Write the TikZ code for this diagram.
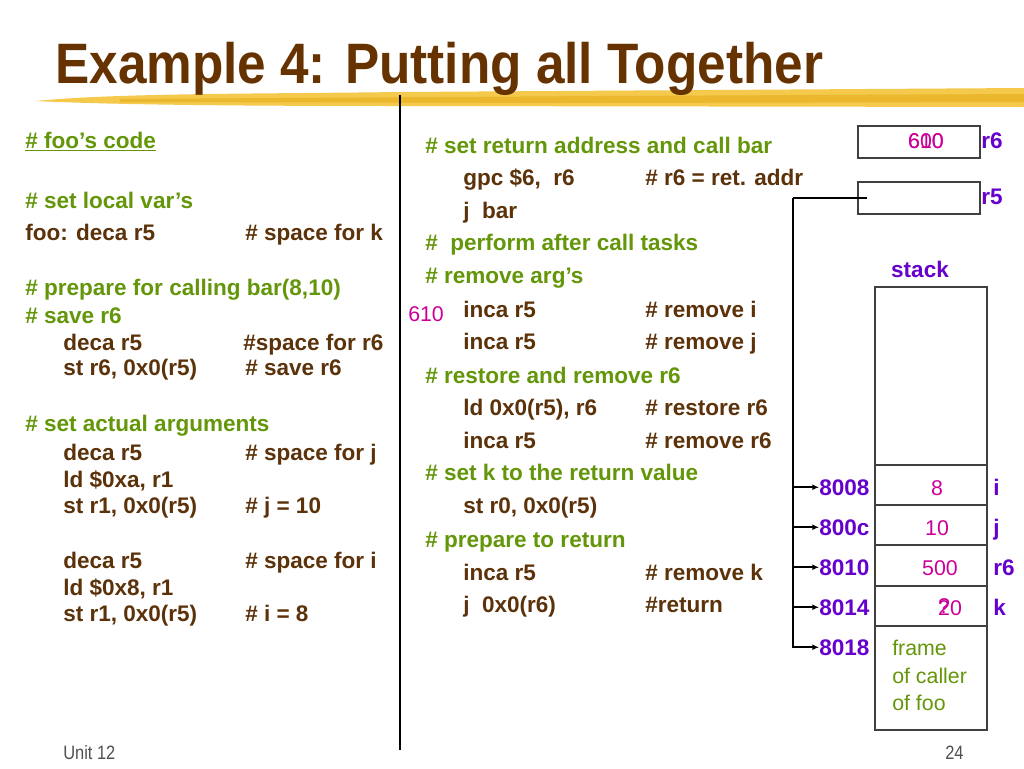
\documentclass[tikz,border=0pt]{standalone}
\usepackage{fontspec}
\setmainfont{Liberation Sans}
\usetikzlibrary{arrows.meta}
\definecolor{titlebrown}{RGB}{102,51,0}
\definecolor{codebrown}{RGB}{92,50,10}
\definecolor{cgreen}{RGB}{100,150,10}
\definecolor{cpurple}{RGB}{102,0,204}
\definecolor{cmagenta}{RGB}{204,0,153}
\definecolor{hlgold}{RGB}{242,192,45}
\definecolor{hldark}{RGB}{228,170,20}
\definecolor{footgray}{RGB}{80,80,80}
\begin{document}
\begin{tikzpicture}[x=0.75pt,y=-0.75pt,
  code/.style={anchor=base west,inner sep=0pt,text=codebrown,font=\fontsize{16.9}{20}\selectfont\bfseries},
  cmt/.style={code,text=cgreen},
  addr/.style={code,text=cpurple},
  lbl/.style={code,text=cpurple},
  val/.style={anchor=base,inner sep=0pt,text=cmagenta,font=\fontsize{16}{19}\selectfont},
  frametxt/.style={anchor=base west,inner sep=0pt,text=cgreen,font=\fontsize{16}{19}\selectfont},
  regbox/.style={draw=black!75,line width=0.9pt,minimum width=91.5pt,minimum height=24pt,inner sep=0pt},
  arr/.style={line width=1.3pt,-{Latex[length=5pt,width=4.5pt]}},
  foot/.style={anchor=base west,inner sep=0pt,text=footgray,font=\fontsize{14.5}{17}\selectfont}]
\useasboundingbox (0,0) rectangle (1024,768);
\fill[white] (0,0) rectangle (1024,768);
% highlight stroke
\fill[hlgold!85!white] (35,101) .. controls (120,93) and (250,94) .. (400,92) -- (1024,88) -- (1024,107) -- (400,106) .. controls (250,106) and (120,105) .. (35,101) -- cycle;
\fill[hldark,opacity=0.55] (120,99) -- (600,96) -- (1024,94) -- (1024,102) -- (600,103) -- (120,102) -- cycle;
% title
\node[anchor=base west,inner sep=0pt,text=titlebrown,font=\fontsize{42.75}{48}\selectfont\bfseries] (title) at (55,83) {\scalebox{0.9}[1]{Example 4: Putting all Together}};
% divider
\draw[line width=1.5pt] (400,95) -- (400,750);
% left column
\node[cmt] (l1) at (25,148) {\underline{\# foo’s code}};
\node[cmt] (l2) at (25,208) {\# set local var’s};
\node[code] (l3) at (25,240) {foo: deca r5};
\node[code] (l3c) at (245,240) {\# space for k};
\node[cmt] (l4) at (25,295) {\# prepare for calling bar(8,10)};
\node[cmt] (l5) at (25,323) {\# save r6};
\node[code] (l6) at (63,350) {deca r5};
\node[code] (l6c) at (243,350) {\#space for r6};
\node[code] (l7) at (63,375) {st r6, 0x0(r5)};
\node[code] (l7c) at (245,375) {\# save r6};
\node[cmt] (l8) at (25,431) {\# set actual arguments};
\node[code] (l9) at (63,460) {deca r5};
\node[code] (l9c) at (245,460) {\# space for j};
\node[code] (l10) at (63,487) {ld \$0xa, r1};
\node[code] (l11) at (63,513) {st r1, 0x0(r5)};
\node[code] (l11c) at (245,513) {\# j = 10};
\node[code] (l12) at (63,568) {deca r5};
\node[code] (l12c) at (245,568) {\# space for i};
\node[code] (l13) at (63,595) {ld \$0x8, r1};
\node[code] (l14) at (63,621) {st r1, 0x0(r5)};
\node[code] (l14c) at (245,621) {\# i = 8};
% middle column
\node[cmt] (m1) at (425,153) {\# set return address and call bar};
\node[code] (m2) at (463,185) {gpc \$6,\ \ r6};
\node[code] (m2c) at (645,185) {\# r6 = ret. addr};
\node[code] (m3) at (463,218) {j\ \ bar};
\node[cmt] (m4) at (425,250) {\#\ \ perform after call tasks};
\node[cmt] (m5) at (425,283) {\# remove arg’s};
\node[val,anchor=base west] (m610) at (408,321) {610};
\node[code] (m6) at (463,317) {inca r5};
\node[code] (m6c) at (645,317) {\# remove i};
\node[code] (m7) at (463,349) {inca r5};
\node[code] (m7c) at (645,349) {\# remove j};
\node[cmt] (m8) at (425,383) {\# restore and remove r6};
\node[code] (m9) at (463,415) {ld 0x0(r5), r6};
\node[code] (m9c) at (645,415) {\# restore r6};
\node[code] (m10) at (463,448) {inca r5};
\node[code] (m10c) at (645,448) {\# remove r6};
\node[cmt] (m11) at (425,480) {\# set k to the return value};
\node[code] (m12) at (463,513) {st r0, 0x0(r5)};
\node[cmt] (m13) at (425,547) {\# prepare to return};
\node[code] (m14) at (463,580) {inca r5};
\node[code] (m14c) at (645,580) {\# remove k};
\node[code] (m15) at (463,612) {j\ \ 0x0(r6)};
\node[code] (m15c) at (645,612) {\#return};
% registers
\node[regbox] (r6box) at (919,142) {};
\node[val] (r6v1) at (926,148) {600};
\node[val] (r6v2) at (926,148) {610};
\node[lbl] (r6lbl) at (981,148) {r6};
\node[regbox] (r5box) at (919,198) {};
\node[lbl] (r5lbl) at (981,204) {r5};
% stack
\node[lbl,anchor=base] (stacklbl) at (920,277) {stack};
\draw[black!75,line width=0.9pt] (875,287) rectangle (987,730);
\foreach \yy in {465,505,545,586,626} \draw[black!75,line width=0.9pt] (875,\yy) -- (987,\yy);
\node[val] (v8) at (937,495) {8};
\node[val] (v10) at (937,535) {10};
\node[val] (v500) at (940,575) {500};
\node[val] (v20) at (950,615) {20};
\node[val] (vq) at (944,613) {?};
\node[frametxt] (f1) at (892,655) {frame};
\node[frametxt] (f2) at (892,683) {of caller};
\node[frametxt] (f3) at (892,710) {of foo};
\node[lbl] (li) at (993,495) {i};
\node[lbl] (lj) at (993,535) {j};
\node[lbl] (lr6) at (993,575) {r6};
\node[lbl] (lk) at (993,615) {k};
\node[addr] (a8008) at (819,495) {8008};
\node[addr] (a800c) at (819,535) {800c};
\node[addr] (a8010) at (819,575) {8010};
\node[addr] (a8014) at (819,615) {8014};
\node[addr] (a8018) at (819,655) {8018};
% connector from r5
\coordinate (r5in) at (867,198);
\coordinate (trunk) at (793,198);
\draw[line width=2pt] (r5in) -- (trunk);
\draw[arr] (trunk) -- (trunk |- a8018) -- (a8018.west);
\draw[arr] (trunk |- a8008) -- (a8008.west);
\draw[arr] (trunk |- a800c) -- (a800c.west);
\draw[arr] (trunk |- a8010) -- (a8010.west);
\draw[arr] (trunk |- a8014) -- (a8014.west);
% footer
\node[foot] (unit) at (63,759) {\scalebox{0.85}[1]{Unit 12}};
\node[foot] (page) at (945,759) {\scalebox{0.85}[1]{24}};
\end{tikzpicture}
\end{document}
